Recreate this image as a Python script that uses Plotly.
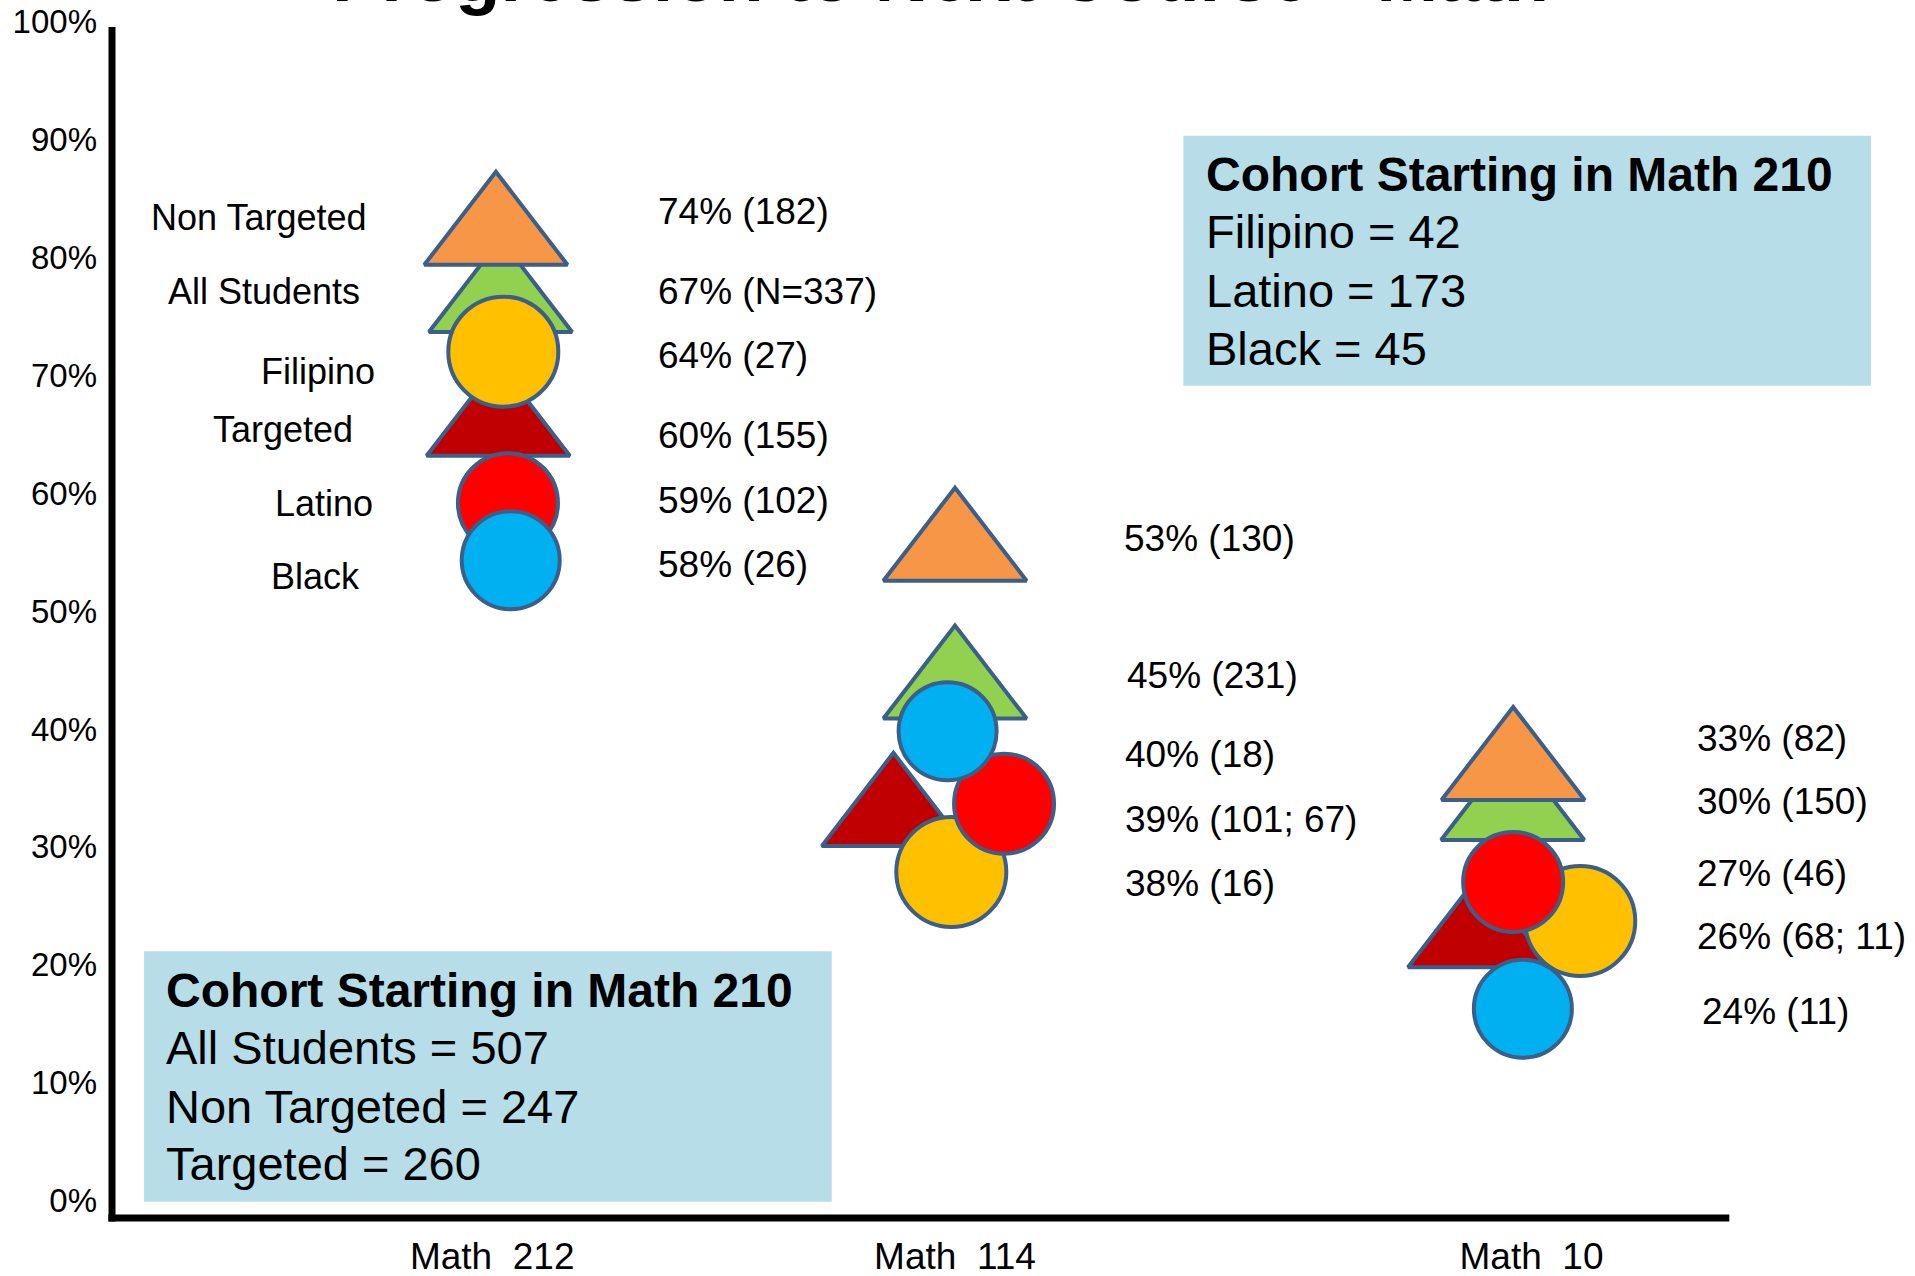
import plotly.graph_objects as go

# ---------------- data ----------------
courses = ["Math\u00a0 212", "Math\u00a0 114", "Math\u00a0 10"]
course_tick_x = [1.0, 2.0, 3.2457]

# drawing order: back to front
groups = ["All Students", "Non Targeted", "Targeted", "Filipino", "Latino", "Black"]

# percentage reaching the next course (labels) and counts, per course (212, 114, 10)
pct_non_targeted = [74, 53, 33]
pct_all_students = [67, 45, 30]
pct_filipino = [64, 38, 26]
pct_targeted = [60, 39, 26]
pct_latino = [59, 39, 27]
pct_black = [58, 40, 24]

n_non_targeted = [182, 130, 82]
n_all_students = [337, 231, 150]
n_filipino = [27, 16, 11]
n_targeted = [155, 101, 68]
n_latino = [102, 67, 46]
n_black = [26, 18, 11]

# level at which each shape is drawn on the chart's % axis
lvl_non_targeted = [81.5, 54.7, 36.1]
lvl_all_students = [75.8, 43.0, 32.7]
lvl_filipino = [71.5, 27.35, 23.2]
lvl_targeted = [65.3, 32.2, 21.9]
lvl_latino = [58.65, 33.15, 26.5]
lvl_black = [53.8, 39.3, 15.75]

# horizontal placement of each shape (course axis units)
xp_non_targeted = [1.008, 2.000, 3.206]
xp_all_students = [1.018, 2.000, 3.205]
xp_filipino = [1.024, 1.992, 3.351]
xp_targeted = [1.013, 1.867, 3.1335]
xp_latino = [1.034, 2.106, 3.206]
xp_black = [1.040, 1.984, 3.227]

cohort_all = [("All Students", 507), ("Non Targeted", 247), ("Targeted", 260)]
cohort_eth = [("Filipino", 42), ("Latino", 173), ("Black", 45)]

y_ticks = [0, 10, 20, 30, 40, 50, 60, 70, 80, 90, 100]

pct = {"Non Targeted": pct_non_targeted, "All Students": pct_all_students,
       "Filipino": pct_filipino, "Targeted": pct_targeted,
       "Latino": pct_latino, "Black": pct_black}
cnt = {"Non Targeted": n_non_targeted, "All Students": n_all_students,
       "Filipino": n_filipino, "Targeted": n_targeted,
       "Latino": n_latino, "Black": n_black}
lvl = {"Non Targeted": lvl_non_targeted, "All Students": lvl_all_students,
       "Filipino": lvl_filipino, "Targeted": lvl_targeted,
       "Latino": lvl_latino, "Black": lvl_black}
xpos = {"Non Targeted": xp_non_targeted, "All Students": xp_all_students,
        "Filipino": xp_filipino, "Targeted": xp_targeted,
        "Latino": xp_latino, "Black": xp_black}

# ---------------- style ----------------
colors = {"Non Targeted": "#F79646", "All Students": "#92D050", "Targeted": "#C00000",
          "Filipino": "#FFC000", "Latino": "#FF0000", "Black": "#00B0F0"}
symbols = {"Non Targeted": "triangle-up", "All Students": "triangle-up", "Targeted": "triangle-up",
           "Filipino": "circle", "Latino": "circle", "Black": "circle"}
msize = {"Non Targeted": 124, "All Students": 124, "Targeted": 124,
         "Filipino": 110, "Latino": 100, "Black": 98}
OUTLINE = "#3A5F8B"
FONT = "Liberation Sans, Arial, sans-serif"

fig = go.Figure()
for g in groups:
    fig.add_trace(go.Scatter(
        x=xpos[g], y=lvl[g], mode="markers", name=g,
        marker=dict(symbol=symbols[g], size=msize[g], color=colors[g],
                    line=dict(color=OUTLINE, width=4)),
        cliponaxis=False, hoverinfo="skip"))

ann = []

# value labels per course: which groups each label covers, and where it sits
label_sets = [
    [["Non Targeted"], ["All Students"], ["Filipino"], ["Targeted"], ["Latino"], ["Black"]],
    [["Non Targeted"], ["All Students"], ["Black"], ["Targeted", "Latino"], ["Filipino"]],
    [["Non Targeted"], ["All Students"], ["Latino"], ["Targeted", "Filipino"], ["Black"]],
]
label_x = [[1.3535] * 6, [2.361, 2.367, 2.364, 2.364, 2.364], [3.5994, 3.5994, 3.5994, 3.5994, 3.6098]]
label_y = [[83.41, 76.58, 71.19, 64.35, 58.86, 53.47],
           [55.64, 44.04, 37.30, 31.81, 26.42],
           [38.65, 33.36, 27.25, 21.86, 15.54]]
for ci, sets in enumerate(label_sets):
    for li, gs in enumerate(sets):
        p = pct[gs[0]][ci]
        ns = [str(cnt[g][ci]) for g in gs]
        inner = "; ".join(ns)
        if ci == 0 and gs[0] == "All Students":
            inner = "N=" + inner
        ann.append(dict(x=label_x[ci][li], y=label_y[ci][li], xref="x", yref="y",
                        text=f"{p}% ({inner})", showarrow=False, xanchor="left",
                        yanchor="middle", font=dict(family=FONT, size=37, color="black")))

# group names next to the first course
name_order = ["Non Targeted", "All Students", "Filipino", "Targeted", "Latino", "Black"]
name_x = [0.4959, 0.5065, 0.6239, 0.5486, 0.6372, 0.6174]
name_y = [82.89, 76.58, 69.84, 64.87, 58.65, 52.43]
for g, nx, ny in zip(name_order, name_x, name_y):
    ann.append(dict(x=nx, y=ny, xref="x", yref="y", text=g, showarrow=False,
                    xanchor="center", yanchor="middle",
                    font=dict(family=FONT, size=36, color="black")))

# cohort boxes
BOX = "#B7DDE8"
shapes = [
    dict(type="rect", xref="x", yref="y", x0=0.2478, x1=1.7336, y0=-0.63, y1=20.62,
         fillcolor=BOX, line=dict(width=0), layer="below"),
    dict(type="rect", xref="x", yref="y", x0=2.4935, x1=3.9793, y0=68.60, y1=89.83,
         fillcolor=BOX, line=dict(width=0), layer="below"),
    # axis lines
    dict(type="line", xref="paper", yref="paper", x0=0, x1=0, y0=-0.003, y1=0.986,
         line=dict(color="black", width=7)),
    dict(type="line", xref="paper", yref="paper", x0=-0.002, x1=0.897, y0=0, y1=0,
         line=dict(color="black", width=7)),
]

def box_text(x0, ys, title, rows):
    ann.append(dict(x=x0, y=ys[0], xref="x", yref="y", text=f"<b>{title}</b>",
                    showarrow=False, xanchor="left", yanchor="middle",
                    font=dict(family=FONT, size=48, color="black")))
    for (k, v), yy in zip(rows, ys[1:]):
        ann.append(dict(x=x0, y=yy, xref="x", yref="y", text=f"{k} = {v}",
                        showarrow=False, xanchor="left", yanchor="middle",
                        font=dict(family=FONT, size=47, color="black")))

box_text(0.2902, [17.30, 12.43, 7.46, 2.59], "Cohort Starting in Math 210", cohort_all)
box_text(2.5385, [86.53, 81.66, 76.68, 71.81], "Cohort Starting in Math 210", cohort_eth)

# clipped title at the very top
ann.append(dict(x=0.4595, y=1.0282, xref="paper", yref="paper",
                text="<b>Progression to Next Course - Math</b>", showarrow=False,
                xanchor="center", yanchor="middle",
                font=dict(family=FONT, size=74, color="black")))

fig.update_layout(
    width=1915, height=1276,
    margin=dict(l=112, r=0, t=10, b=58, autoexpand=False),
    paper_bgcolor="white", plot_bgcolor="white",
    showlegend=False,
    shapes=shapes, annotations=ann,
    xaxis=dict(range=[0.17848, 4.0743], showgrid=False, zeroline=False, showline=False,
               tickvals=course_tick_x, ticktext=courses, ticks="",
               tickfont=dict(family=FONT, size=37, color="black"),
               ticklabelstandoff=13, ticklabeloverflow="allow", automargin=False),
    yaxis=dict(range=[-2.002, 100.49], showgrid=False, zeroline=False, showline=False,
               tickvals=y_ticks, ticktext=[f"{t}%" for t in y_ticks], ticks="",
               tickfont=dict(family=FONT, size=33, color="black"),
               ticklabelstandoff=14, ticklabelshift=6, ticklabeloverflow="allow",
               automargin=False),
)

fig.write_html("out.html", config={"displayModeBar": False},
               post_script="document.body.style.margin='0';document.body.style.overflow='hidden';")
